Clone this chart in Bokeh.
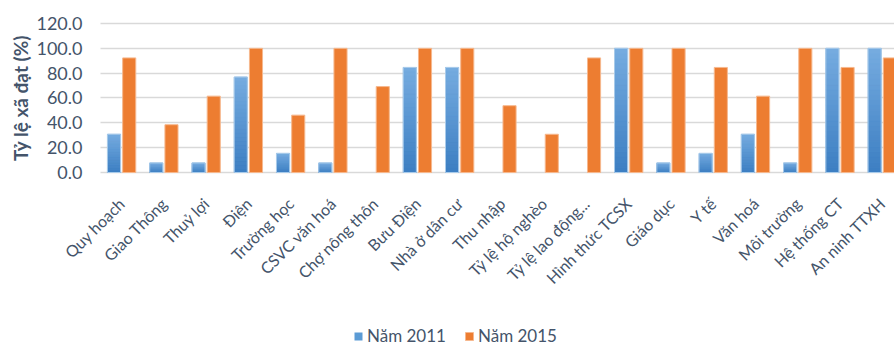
from math import pi

from bokeh.embed import file_html
from bokeh.models import (ColumnDataSource, FixedTicker, Label, Legend,
                          LegendItem, NumeralTickFormatter, Range1d)
from bokeh.plotting import figure
from bokeh.resources import INLINE

# Tiêu chí nông thôn mới và tỷ lệ xã đạt (%)
categories = [
    "Quy hoạch", "Giao Thông", "Thuỷ lợi", "Điện", "Trường học",
    "CSVC văn hoá", "Chợ nông thôn", "Bưu Điện", "Nhà ở dân cư",
    "Thu nhập", "Tỷ lệ hộ nghèo", "Tỷ lệ lao động...", "Hình thức TCSX",
    "Giáo dục", "Y tế", "Văn hoá", "Môi trường", "Hệ thống CT",
    "An ninh TTXH",
]
nam_2011 = [30.8, 7.7, 7.7, 76.9, 15.4, 7.7, 0.0, 84.6, 84.6, 0.0, 0.0,
            0.0, 100.0, 7.7, 15.4, 30.8, 7.7, 100.0, 100.0]
nam_2015 = [92.3, 38.5, 61.5, 100.0, 46.2, 100.0, 69.2, 100.0, 100.0, 53.8,
            30.8, 92.3, 100.0, 100.0, 84.6, 61.5, 100.0, 84.6, 92.3]
y_ticks = [0, 20, 40, 60, 80, 100, 120]
series_names = ["Năm 2011", "Năm 2015"]
y_title = "Tỷ lệ xã đạt (%)"

TEXT = "#44546A"
FONT = "Lato"
BAR_W = 0.31
OFFSET = 0.18
X_LEFT = -0.5       # left edge of the bar area
X_RIGHT = 18.29     # right edge (last category runs off the page)

xs = list(range(len(categories)))

# One frame covers the whole page; both axes are pinned inside it so the
# tick labels, the rotated category names and the legend all stay visible.
p = figure(
    frame_width=894, frame_height=346,
    x_range=Range1d(-2.866, X_RIGHT), y_range=Range1d(-140.13, 138.52),
    output_backend="svg", toolbar_location=None,
    min_border_left=0, min_border_right=0, min_border_top=0,
    min_border_bottom=0,
)
p.outline_line_color = None
p.background_fill_color = "white"

# Horizontal grid over the bar area only
p.xgrid.grid_line_color = None
grid = p.ygrid[0]
if "cross_bounds" in grid.properties():
    grid.ticker = FixedTicker(ticks=y_ticks)
    grid.cross_bounds = (X_LEFT, X_RIGHT)
    grid.grid_line_color = "#D9D9D9"
    grid.grid_line_width = 1.5
else:
    grid.grid_line_color = None
    p.segment(x0=[X_LEFT] * len(y_ticks), x1=[X_RIGHT] * len(y_ticks),
              y0=y_ticks, y1=y_ticks, line_color="#D9D9D9", line_width=1.5)

# Blue series: base bar, vertical gradient slices, light outline
src11 = ColumnDataSource(dict(x=[x - OFFSET for x in xs], top=nam_2011))
base11 = p.vbar(x="x", top="top", width=BAR_W, source=src11,
                fill_color="#5B9BD5", line_color=None)

light = (118, 172, 224)
dark = (60, 126, 194)
n_slices = 24
g = dict(left=[], right=[], bottom=[], top=[], color=[])
for x, v in zip(xs, nam_2011):
    if v <= 0:
        continue
    for k in range(n_slices):
        f = (k + 0.5) / n_slices
        rgb = tuple(int(round(d + (l - d) * f)) for d, l in zip(dark, light))
        g["left"].append(x - OFFSET - BAR_W / 2)
        g["right"].append(x - OFFSET + BAR_W / 2)
        g["bottom"].append(v * k / n_slices)
        g["top"].append(v * (k + 1) / n_slices)
        g["color"].append("#%02x%02x%02x" % rgb)
p.quad(left="left", right="right", bottom="bottom", top="top",
       fill_color="color", line_color="color", line_width=0.6,
       source=ColumnDataSource(g))

pos11 = ColumnDataSource(dict(
    x=[x - OFFSET for x, v in zip(xs, nam_2011) if v > 0],
    top=[v for v in nam_2011 if v > 0]))
p.vbar(x="x", top="top", width=BAR_W, source=pos11,
       fill_color=None, line_color="#A9CBEA", line_width=1)

# Orange series
src15 = ColumnDataSource(dict(x=[x + OFFSET for x in xs], top=nam_2015))
bar15 = p.vbar(x="x", top="top", width=BAR_W, source=src15,
               fill_color="#ED7D31", line_color="#F6B88E", line_width=1)

# Y axis pinned at the left edge of the bar area
p.yaxis.fixed_location = X_LEFT
p.yaxis.ticker = FixedTicker(ticks=y_ticks)
p.yaxis.formatter = NumeralTickFormatter(format="0.0")
p.yaxis.axis_line_color = None
p.yaxis.major_tick_line_color = None
p.yaxis.minor_tick_line_color = None
p.yaxis.major_tick_out = 0
p.yaxis.major_label_standoff = 18
p.yaxis.major_label_text_font = FONT
p.yaxis.major_label_text_font_size = "18px"
p.yaxis.major_label_text_color = TEXT

# Y title, centred on the 0–120 band
p.add_layout(Label(x=20, x_units="screen", y=60, y_units="data",
                   text=y_title, angle=pi / 2, text_align="center",
                   text_baseline="middle", text_font=FONT,
                   text_font_size="19px", text_font_style="bold",
                   text_color=TEXT))

# X axis pinned at the zero line
p.xaxis.fixed_location = 0
p.xaxis.ticker = FixedTicker(ticks=xs)
p.xaxis.major_label_overrides = {i: c for i, c in enumerate(categories)}
p.xaxis.major_label_orientation = pi / 4
p.xaxis.axis_line_color = None
p.xaxis.major_tick_line_color = None
p.xaxis.minor_tick_line_color = None
p.xaxis.major_tick_out = 0
p.xaxis.major_label_standoff = 28
p.xaxis.major_label_text_font = FONT
p.xaxis.major_label_text_font_size = "16px"
p.xaxis.major_label_text_color = TEXT

legend = Legend(
    items=[LegendItem(label=series_names[0], renderers=[base11]),
           LegendItem(label=series_names[1], renderers=[bar15])],
    orientation="horizontal", location=(353, 0),
    glyph_width=10, glyph_height=10, label_standoff=4, spacing=18,
    label_text_font=FONT, label_text_font_size="17px",
    label_text_color=TEXT, border_line_color=None,
    background_fill_alpha=0, margin=0, padding=0,
)
p.add_layout(legend)

open("out.html", "w").write(file_html(p, INLINE))
